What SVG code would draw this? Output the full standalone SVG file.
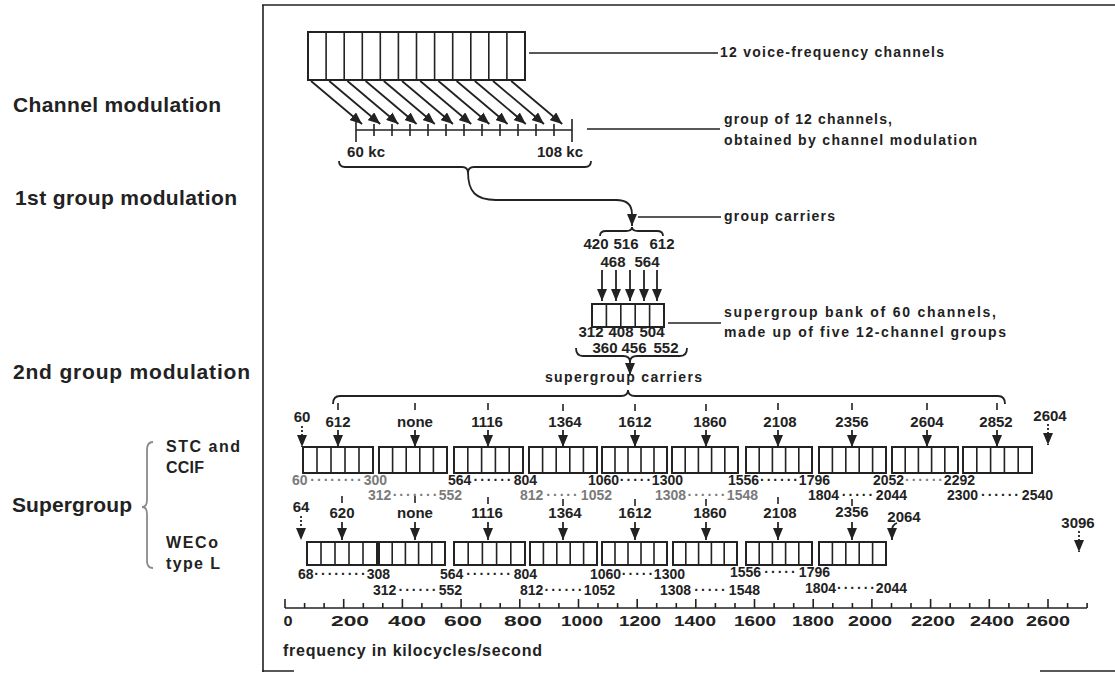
<svg xmlns="http://www.w3.org/2000/svg" width="1115" height="673" viewBox="0 0 1115 673">
<defs>
<style>
text{font-family:"Liberation Sans",Arial,sans-serif;font-weight:bold;fill:#222}
.big{font-size:21px}
.sm{font-size:16px}
.note{font-size:14px;letter-spacing:1px}
.num{font-size:15px;text-anchor:middle}
.rng{font-size:14px}
.d{letter-spacing:2px}
.mid{text-anchor:middle}
.end{text-anchor:end}
.gray{fill:#7a7a7a}
.ax{font-size:15px;text-anchor:middle}
.box{fill:none;stroke:#222;stroke-width:2}
.cell{fill:none;stroke:#222;stroke-width:1.6}
.ln{fill:none;stroke:#222;stroke-width:1.6}
.arr{fill:none;stroke:#222;stroke-width:1.8;marker-end:url(#ah)}
.dot{fill:none;stroke:#222;stroke-width:1.8;stroke-dasharray:2 2;marker-end:url(#ah)}
.brace{fill:none;stroke:#222;stroke-width:1.8}
</style>
<marker id="ah" viewBox="0 0 12 10" refX="12" refY="5" markerWidth="12" markerHeight="10" markerUnits="userSpaceOnUse" orient="auto"><path d="M0,0 L12,5 L0,10 z" fill="#222"/></marker>
</defs>
<rect width="1115" height="673" fill="#fff"/>

<g id="frame">
<path class="ln" stroke-width="2.2" d="M262,5 H1115 M263,5 V672 M262,671 H294 M1040,671 H1115"/>
</g>

<g id="stage-labels">
<text class="big" x="13" y="112" textLength="208">Channel modulation</text>
<text class="big" x="15" y="205" textLength="222">1st group modulation</text>
<text class="big" x="13" y="379" textLength="237">2nd group modulation</text>
<text class="big" x="12" y="512" textLength="120">Supergroup</text>
<path d="M153,442 Q147,442 147,450 L147,500 Q147,507 142,507 Q147,507 147,514 L147,561 Q147,568 153,568" fill="none" stroke="#8a8a8a" stroke-width="1.8"/>
<text class="sm" x="166" y="452" textLength="74">STC and</text>
<text class="sm" x="166" y="473" textLength="38">CCIF</text>
<text class="sm" x="166" y="548" textLength="52">WECo</text>
<text class="sm" x="166" y="569" textLength="54">type L</text>
</g>

<g id="vf-channels">
<rect class="box" x="308" y="32" width="217" height="48"/>
<path class="cell" d="M326.1,32V80M344.2,32V80M362.3,32V80M380.3,32V80M398.4,32V80M416.5,32V80M434.6,32V80M452.7,32V80M470.8,32V80M488.8,32V80M506.9,32V80"/>
<text class="note" x="720" y="57" textLength="225">12 voice-frequency channels</text>
</g>

<g id="group">
<path class="ln" stroke-width="2" d="M356,130 H572 M356,119 V142 M572,119 V142"/>
<path class="cell" d="M374,124V136M392,124V136M410,124V136M428,124V136M446,124V136M464,124V136M482,124V136M500,124V136M518,124V136M536,124V136M554,124V136"/>
<text class="num" x="366" y="157" textLength="38">60 kc</text>
<text class="num" x="560" y="157" textLength="46">108 kc</text>
<path class="brace" d="M339,161 Q339,167 345,167 L462,167 Q468,167 468,173 Q468,167 474,167 L585,167 Q591,167 591,161"/>
<text class="note" x="724" y="124" textLength="169">group of 12 channels,</text>
<text class="note" x="724" y="145" textLength="254">obtained by channel modulation</text>
</g>

<g id="group-carriers">
<path class="brace" d="M600,236 Q600,231 606,231 L626,231 Q632,231 632,227 Q632,231 638,231 L657,231 Q663,231 663,236"/>
<text class="note" x="724" y="221" textLength="112">group carriers</text>
<text class="num" x="596" y="249">420</text>
<text class="num" x="626" y="249">516</text>
<text class="num" x="662" y="249">612</text>
<text class="num" x="613" y="267">468</text>
<text class="num" x="647" y="267">564</text>
</g>

<g id="supergroup-bank">
<rect class="box" x="592" y="304" width="72" height="23"/>
<path class="cell" d="M606.4,304V327M620.8,304V327M635.2,304V327M649.6,304V327"/>
<text class="num" x="591" y="337">312</text>
<text class="num" x="621" y="337">408</text>
<text class="num" x="652" y="337">504</text>
<text class="num" x="605" y="353">360</text>
<text class="num" x="634" y="353">456</text>
<text class="num" x="666" y="353">552</text>
<path class="brace" d="M576,348 Q576,356 583,356 L623,356 Q630,356 630,362 Q630,356 637,356 L680,356 Q687,356 687,348"/>
<text class="note" x="724" y="317" textLength="273">supergroup bank of 60 channels,</text>
<text class="note" x="724" y="337" textLength="283">made up of five 12-channel groups</text>
</g>

<g id="supergroup-carriers">
<text class="note" x="545" y="382" textLength="158">supergroup carriers</text>
<path class="brace" d="M333,404 Q333,396 340,396 L621,396 Q628,396 628,390 Q628,396 635,396 L998,396 Q1005,396 1005,404"/>
</g>

<g id="stc-ccif-row">
<text class="num" x="302" y="422">60</text>
<text class="num" x="338" y="427">612</text>
<text class="num" x="415" y="427">none</text>
<text class="num" x="487" y="427">1116</text>
<text class="num" x="565" y="427">1364</text>
<text class="num" x="635" y="427">1612</text>
<text class="num" x="710" y="427">1860</text>
<text class="num" x="780" y="427">2108</text>
<text class="num" x="852" y="427">2356</text>
<text class="num" x="927" y="427">2604</text>
<text class="num" x="996" y="427">2852</text>
<text class="num" x="1050" y="421">2604</text>
<rect class="box" x="303" y="447" width="70" height="26"/>
<rect class="box" x="379" y="447" width="68" height="26"/>
<rect class="box" x="454" y="447" width="69" height="26"/>
<rect class="box" x="529" y="447" width="68" height="26"/>
<rect class="box" x="602" y="447" width="65" height="26"/>
<rect class="box" x="672" y="447" width="66" height="26"/>
<rect class="box" x="746" y="447" width="66" height="26"/>
<rect class="box" x="819" y="447" width="67" height="26"/>
<rect class="box" x="892" y="447" width="66" height="26"/>
<rect class="box" x="963" y="447" width="69" height="26"/>
<path class="cell" d="M317,447V473M331,447V473M345,447V473M359,447V473 M392.6,447V473M406.2,447V473M419.8,447V473M433.4,447V473 M467.8,447V473M481.6,447V473M495.4,447V473M509.2,447V473 M542.6,447V473M556.2,447V473M569.8,447V473M583.4,447V473 M615,447V473M628,447V473M641,447V473M654,447V473 M685.2,447V473M698.4,447V473M711.6,447V473M724.8,447V473 M759.2,447V473M772.4,447V473M785.6,447V473M798.8,447V473 M832.4,447V473M845.8,447V473M859.2,447V473M872.6,447V473 M905.2,447V473M918.4,447V473M931.6,447V473M944.8,447V473 M976.8,447V473M990.6,447V473M1004.4,447V473M1018.2,447V473"/>
<text class="rng gray" x="292" y="485">60<tspan class="d mid" x="337">········</tspan><tspan class="end" x="387">300</tspan></text>
<text class="rng gray" x="368" y="500">312<tspan class="d mid" x="416">·······</tspan><tspan class="end" x="462">552</tspan></text>
<text class="rng" x="448" y="485">564<tspan class="d mid" x="493.5">······</tspan><tspan class="end" x="537">804</tspan></text>
<text class="rng gray" x="520" y="500">812<tspan class="d mid" x="563">·····</tspan><tspan class="end" x="612">1052</tspan></text>
<text class="rng" x="588" y="485">1060<tspan class="d mid" x="636.5">·····</tspan><tspan class="end" x="683">1300</tspan></text>
<text class="rng gray" x="655" y="500">1308<tspan class="d mid" x="707.5">······</tspan><tspan class="end" x="758">1548</tspan></text>
<text class="rng" x="728" y="485">1556<tspan class="d mid" x="780">······</tspan><tspan class="end" x="830">1796</tspan></text>
<text class="rng" x="808" y="500">1804<tspan class="d mid" x="858.5">·····</tspan><tspan class="end" x="907">2044</tspan></text>
<text class="rng" x="873" y="485">2052<tspan class="d mid gray" x="925">······</tspan><tspan class="end" x="975">2292</tspan></text>
<text class="rng" x="947" y="500">2300<tspan class="d mid" x="1001">······</tspan><tspan class="end" x="1053">2540</tspan></text>
</g>

<g id="weco-row">
<text class="num" x="301" y="512">64</text>
<text class="num" x="342" y="518">620</text>
<text class="num" x="415" y="518">none</text>
<text class="num" x="487" y="518">1116</text>
<text class="num" x="565" y="518">1364</text>
<text class="num" x="635" y="518">1612</text>
<text class="num" x="710" y="518">1860</text>
<text class="num" x="780" y="518">2108</text>
<text class="num" x="852" y="517">2356</text>
<text class="num" x="904" y="522">2064</text>
<text class="num" x="1078" y="528">3096</text>
<rect class="box" x="307" y="542" width="70" height="23"/>
<rect class="box" x="379" y="542" width="66" height="23"/>
<rect class="box" x="454" y="542" width="71" height="23"/>
<rect class="box" x="530" y="542" width="67" height="23"/>
<rect class="box" x="602" y="542" width="65" height="23"/>
<rect class="box" x="673" y="542" width="64" height="23"/>
<rect class="box" x="746" y="542" width="66" height="23"/>
<rect class="box" x="819" y="542" width="67" height="23"/>
<path class="cell" d="M321,542V565M335,542V565M349,542V565M363,542V565 M392.2,542V565M405.4,542V565M418.6,542V565M431.8,542V565 M468.2,542V565M482.4,542V565M496.6,542V565M510.8,542V565 M543.4,542V565M556.8,542V565M570.2,542V565M583.6,542V565 M615,542V565M628,542V565M641,542V565M654,542V565 M685.8,542V565M698.6,542V565M711.4,542V565M724.2,542V565 M759.2,542V565M772.4,542V565M785.6,542V565M798.8,542V565 M832.4,542V565M845.8,542V565M859.2,542V565M872.6,542V565"/>
<text class="rng" x="298" y="579">68<tspan class="d mid" x="341">········</tspan><tspan class="end" x="390">308</tspan></text>
<text class="rng" x="373" y="595">312<tspan class="d mid" x="418.5">······</tspan><tspan class="end" x="462">552</tspan></text>
<text class="rng" x="440" y="579">564<tspan class="d mid" x="489.5">·······</tspan><tspan class="end" x="537">804</tspan></text>
<text class="rng" x="520" y="595">812<tspan class="d mid" x="564.5">······</tspan><tspan class="end" x="615">1052</tspan></text>
<text class="rng" x="590" y="579">1060<tspan class="d mid" x="638.5">·····</tspan><tspan class="end" x="685">1300</tspan></text>
<text class="rng" x="660" y="595">1308<tspan class="d mid" x="711">·····</tspan><tspan class="end" x="760">1548</tspan></text>
<text class="rng" x="730" y="577">1556<tspan class="d mid" x="781">·····</tspan><tspan class="end" x="830">1796</tspan></text>
<text class="rng" x="805" y="593">1804<tspan class="d mid" x="857">······</tspan><tspan class="end" x="907">2044</tspan></text>
</g>

<g id="frequency-axis">
<path class="ln" stroke-width="2" d="M285,608 H1087"/>
<path class="ln" d="M285,599V608M343.7,599V608M402.4,599V608M461.1,599V608M519.8,599V608M578.5,599V608M637.2,599V608M695.8,599V608M754.5,599V608M813.2,599V608M871.9,599V608M930.6,599V608M989.3,599V608M1048,599V608"/>
<path class="ln" d="M304.6,603V608M324.1,603V608M363.3,603V608M382.8,603V608M421.9,603V608M441.5,603V608M480.6,603V608M500.2,603V608M539.3,603V608M558.9,603V608M598,603V608M617.6,603V608M656.7,603V608M676.3,603V608M715.4,603V608M735,603V608M774.1,603V608M793.7,603V608M832.8,603V608M852.4,603V608M891.5,603V608M911,603V608M950.2,603V608M969.7,603V608M1008.9,603V608M1028.4,603V608M1067.6,603V608M1087.1,603V608"/>
<text class="ax" x="288" y="626" textLength="9" lengthAdjust="spacingAndGlyphs">0</text>
<text class="ax" x="350" y="626" textLength="38" lengthAdjust="spacingAndGlyphs">200</text>
<text class="ax" x="407" y="626" textLength="38" lengthAdjust="spacingAndGlyphs">400</text>
<text class="ax" x="463" y="626" textLength="38" lengthAdjust="spacingAndGlyphs">600</text>
<text class="ax" x="523" y="626" textLength="38" lengthAdjust="spacingAndGlyphs">800</text>
<text class="ax" x="582" y="626" textLength="42" lengthAdjust="spacingAndGlyphs">1000</text>
<text class="ax" x="640" y="626" textLength="42" lengthAdjust="spacingAndGlyphs">1200</text>
<text class="ax" x="695" y="626" textLength="42" lengthAdjust="spacingAndGlyphs">1400</text>
<text class="ax" x="755" y="626" textLength="42" lengthAdjust="spacingAndGlyphs">1600</text>
<text class="ax" x="813" y="626" textLength="42" lengthAdjust="spacingAndGlyphs">1800</text>
<text class="ax" x="870" y="626" textLength="44" lengthAdjust="spacingAndGlyphs">2000</text>
<text class="ax" x="933" y="626" textLength="44" lengthAdjust="spacingAndGlyphs">2200</text>
<text class="ax" x="992" y="626" textLength="44" lengthAdjust="spacingAndGlyphs">2400</text>
<text class="ax" x="1048" y="626" textLength="44" lengthAdjust="spacingAndGlyphs">2600</text>
<text style="font-size:16px" x="283" y="656" textLength="259">frequency in kilocycles/second</text>
</g>

<g id="connectors">
<path class="ln" d="M529,53 H718 M587,129 H720 M638,217 H721 M668,323 H721"/>
<path class="arr" d="M311,81 L362,124"/>
<path class="arr" d="M329.2,81 L380.2,124"/>
<path class="arr" d="M347.4,81 L398.4,124"/>
<path class="arr" d="M365.6,81 L416.6,124"/>
<path class="arr" d="M383.8,81 L434.8,124"/>
<path class="arr" d="M402,81 L453,124"/>
<path class="arr" d="M420.2,81 L471.2,124"/>
<path class="arr" d="M438.4,81 L489.4,124"/>
<path class="arr" d="M456.6,81 L507.6,124"/>
<path class="arr" d="M474.8,81 L525.8,124"/>
<path class="arr" d="M493,81 L544,124"/>
<path class="arr" d="M511.2,81 L562.2,124"/>
<path class="arr" d="M468,172 C468,192 476,200 496,200 L616,200 C628,200 632,206 632,214 L632,226"/>
<path class="arr" d="M602,270 V301"/>
<path class="arr" d="M616,270 V301"/>
<path class="arr" d="M630,270 V301"/>
<path class="arr" d="M644,270 V301"/>
<path class="arr" d="M657,270 V301"/>
<path class="arr" d="M630,361 V375"/>
<path class="ln" d="M338,403V410M415,403V410M488,403V410M563,404V411M635,404V411M706,404V411M778,403V410M852,403V410M927,403V410M997,403V410"/>
<path class="dot" d="M302,426 V447"/>
<path class="arr" d="M338,430 V447"/>
<path class="arr" d="M415,430 V447"/>
<path class="arr" d="M488,430 V447"/>
<path class="arr" d="M563,430 V447"/>
<path class="arr" d="M635,430 V447"/>
<path class="arr" d="M706,430 V447"/>
<path class="arr" d="M778,430 V447"/>
<path class="arr" d="M852,430 V447"/>
<path class="arr" d="M927,430 V447"/>
<path class="arr" d="M997,430 V447"/>
<path class="dot" d="M1048,424 V445"/>
<path class="ln" d="M342,496V503M415,496V503M488,497V504M563,499V506M635,499V506M706,499V506M778,497V504M852,499V506"/>
<path class="dot" d="M301,516 V540"/>
<path class="arr" d="M342,522 V540"/>
<path class="arr" d="M415,522 V540"/>
<path class="arr" d="M488,522 V540"/>
<path class="arr" d="M563,522 V540"/>
<path class="arr" d="M635,522 V540"/>
<path class="arr" d="M706,522 V540"/>
<path class="arr" d="M778,522 V540"/>
<path class="arr" d="M852,522 V540"/>
<path class="arr" d="M897,523 Q892,525 892,530 L892,540"/>
<path class="dot" d="M1079,531 V552"/>
</g>
</svg>
